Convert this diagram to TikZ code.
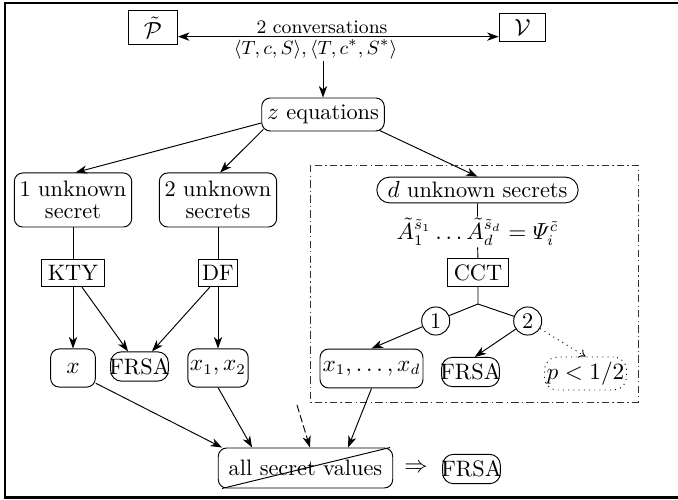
\documentclass[tikz,border=0pt]{standalone}
\usepackage{amsmath}
\usetikzlibrary{arrows.meta,calc}
\begin{document}
\begin{tikzpicture}[x=0.47pt,y=-0.47pt,
  >={Stealth[length=5.4pt,width=3.9pt,inset=1.6pt]},
  line width=0.45pt,
  every node/.style={font=\fontsize{10.5}{10.2}\selectfont},
  sq/.style={draw,rectangle,inner sep=2.8pt},
  rbox/.style={draw,rounded corners=4pt,align=center,inner sep=2.5pt},
  pill/.style={draw,rounded corners=6pt,inner xsep=5pt,inner ysep=2.2pt},
  frsa/.style={draw,rounded corners=5pt,inner xsep=-0.6pt,inner ysep=3pt},
  num/.style={draw,circle,minimum size=13.2pt,inner sep=1pt},
  lbl/.style={inner sep=0.5pt},
  frameline/.style={line width=1.2pt},
  region/.style={draw=black!80,dash pattern=on 3.5pt off 1.5pt on 0.6pt off 1.5pt}
]
\useasboundingbox (0,0) rectangle (678,500);
% frame
\draw[frameline] (678,3) -- (5,3) -- (5,497.5) -- (678,497.5);

% top
\node[sq,minimum width=23pt,minimum height=13.6pt] (P) at (153,27.5) {$\tilde{\mathcal{P}}$};
\node[sq,minimum width=22pt,minimum height=13.6pt] (V) at (522.5,27.5) {$\mathcal{V}$};
\draw[<->] ([yshift=-4.3pt]P.east) -- ([yshift=-4.3pt]V.west);
\node[lbl,font=\small] (conv) at (322,27) {2 conversations};
\node[lbl,font=\fontsize{9.5}{11}\selectfont,anchor=north] (tup) at (315.5,38) {$\langle T,c,S\rangle,\langle T,c^*,S^*\rangle$};
\node[rbox,minimum width=56.4pt,minimum height=15.5pt] (zeq) at (323,114.5) {$z$ equations};
\draw[->] (zeq.north |- tup.south) -- (zeq.north);

% second row
\node[rbox,minimum width=54pt,minimum height=25.4pt] (u1) at (73,200) {1 unknown\\secret};
\node[rbox,minimum width=55pt,minimum height=25.4pt] (u2) at (218,200) {2 unknown\\secrets};
\node[pill] (ud) at (477.5,190) {$d$ unknown secrets};

\draw[->] ([yshift=-4pt]zeq.west) -- ([xshift=1.2pt]u1.north);
\draw[->] ([shift={(1pt,1pt)}]zeq.south west) -- ([xshift=1pt]u2.north);
\draw[->] ([shift={(-2.5pt,0.5pt)}]zeq.south east) -- (ud.north);

% region
\coordinate (rA) at (310,165);
\coordinate (rB) at (638,402);
\draw[region] (rA) rectangle (rB);

% left branch
\node[sq] (kty) at (73,273) {KTY};
\node[sq,inner xsep=1.8pt] (df) at (218,273) {DF};
\draw (u1) -- (kty);
\draw (u2) -- (df);
\node[rbox,minimum width=21pt,minimum height=17.9pt] (xb) at (73,368) {$x$};
\node[frsa] (f1) at (139.5,366.5) {FRSA};
\node[rbox,minimum width=28pt,minimum height=17.9pt,inner xsep=1pt] (x12) at (218,368) {$x_1,x_2$};
\draw[->] (kty) -- (xb);
\draw[->] ([xshift=4.2pt]kty.south) -- ([xshift=-5.4pt]f1.north);
\draw[->] ([xshift=-3.8pt]df.south) -- ([xshift=5.9pt]f1.north);
\draw[->] (df) -- (x12);

% right branch
\node[lbl] (eq) at (477.5,232) {$\tilde{A}_1^{\tilde{s}_1}\dots\tilde{A}_d^{\tilde{s}_d}=\varPsi_i^{\tilde{c}}$};
\node[sq] (cct) at (478,272.5) {CCT};
\draw (ud) -- (eq) -- (cct);
\coordinate (br) at (478,304);
\node[num] (c1) at (435.7,321) {1};
\node[num] (c2) at (527.7,321) {2};
\draw (cct) -- (br) -- (c1);
\draw (br) -- (c2);
\node[rbox,minimum width=48.4pt,minimum height=18.3pt,inner xsep=1pt] (xd) at (371.5,368.5) {$x_1,\dots,x_d$};
\node[frsa] (f2) at (470.5,372) {FRSA};
\node[draw,dotted,rounded corners=6pt,minimum width=35pt,minimum height=15.5pt,inner sep=1pt] (pp) at (585.5,373.5) {$p<1/2$};
\draw[->] (c1) -- (xd.north);
\draw[->] (c2) -- ([xshift=2pt]f2.north);
\draw[dotted,-{To[length=3pt,width=4.5pt]}] (c2) -- (pp.north);

% bottom
\node[rbox,minimum width=82pt,minimum height=18.8pt,inner xsep=4pt] (all) at (305.5,468) {all secret values};
\draw ([xshift=2pt]all.south west) -- ([xshift=-1.5pt]all.north east);
\node[inner sep=1pt] (imp) at (416,468) {$\Rightarrow$};
\node[frsa] (f3) at (471.5,469) {FRSA};
\coordinate (ds) at (297,405);
\draw[->] ([yshift=2pt]xb.south east) -- ([xshift=2pt]all.north west);
\draw[->] (x12.south) -- ([xshift=-25.1pt]all.north);
\draw[->] (xd.south) -- ([xshift=20pt]all.north);
\draw[->,dash pattern=on 3.5pt off 1.5pt] (ds) -- ([xshift=2.1pt]all.north);
\end{tikzpicture}
\end{document}
